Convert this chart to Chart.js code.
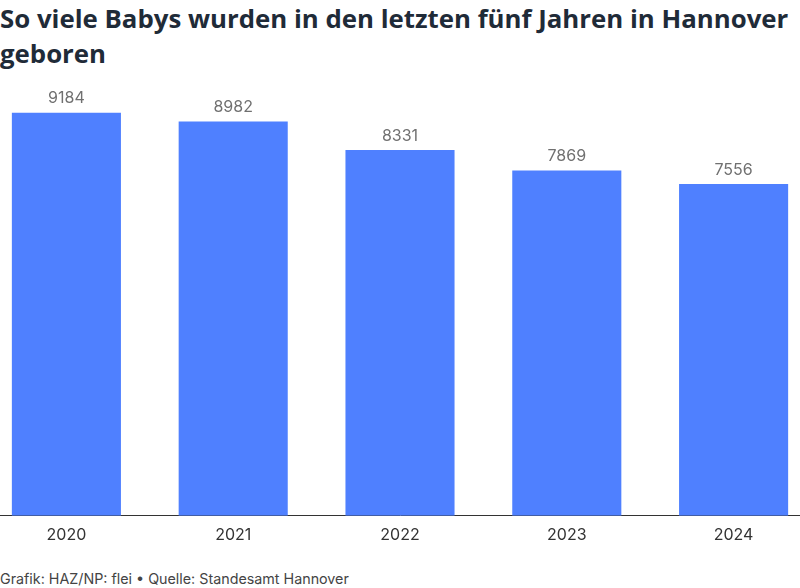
<!DOCTYPE html>
<html lang="de">
<head>
<meta charset="utf-8">
<script src="https://cdn.jsdelivr.net/npm/chart.js@4.4.1/dist/chart.umd.min.js"></script>
<style>
  html, body { margin: 0; padding: 0; background: #fff; overflow: hidden; }
  body { width: 800px; height: 588px; position: relative; font-family: Inter, "Noto Sans", sans-serif; }
  #titel {
    position: absolute; left: 0; top: 1px; width: 800px; margin: 0;
    font-family: "Open Sans", "Noto Sans", sans-serif; font-weight: 700; font-size: 25.8px;
    line-height: 35px; color: #1f2b38; white-space: nowrap;
  }
  #quelle {
    position: absolute; left: 0; top: 570px; font-size: 14.3px; color: #444; margin: 0;
  }
  #wrap { position: absolute; left: -17px; top: 80px; width: 834px; height: 475px; }
</style>
</head>
<body>
<h1 id="titel">So viele Babys wurden in den letzten fünf Jahren in Hannover<br>geboren</h1>
<div id="wrap"><canvas id="chart"></canvas></div>
<p id="quelle">Grafik: HAZ/NP: flei • Quelle: Standesamt Hannover</p>
<script>
const jahre = ["2020", "2021", "2022", "2023", "2024"];
const geburten = [9184, 8982, 8331, 7869, 7556];

// Zahlen über den Balken
const wertLabels = {
  id: "wertLabels",
  afterDatasetsDraw(chart) {
    const ctx = chart.ctx;
    const meta = chart.getDatasetMeta(0);
    ctx.save();
    ctx.font = "16px Inter, sans-serif";
    ctx.fillStyle = "#707070";
    ctx.textAlign = "center";
    ctx.textBaseline = "bottom";
    meta.data.forEach((bar, i) => {
      ctx.fillText(String(geburten[i]), bar.x, bar.y - 6);
    });
    ctx.restore();
  }
};

new Chart(document.getElementById("chart").getContext("2d"), {
  type: "bar",
  data: {
    labels: jahre,
    datasets: [{
      data: geburten,
      backgroundColor: "#4f80ff",
      categoryPercentage: 1,
      barPercentage: 0.654
    }]
  },
  options: {
    responsive: true,
    maintainAspectRatio: false,
    animation: false,
    layout: { padding: { top: 10, bottom: 0, left: 0, right: 0 } },
    plugins: { legend: { display: false }, tooltip: { enabled: false } },
    scales: {
      x: {
        grid: { display: false, drawTicks: false },
        border: { display: true, color: "#333", width: 1 },
        ticks: { color: "#333", font: { family: "Inter", size: 16 }, padding: 10 }
      },
      y: {
        display: false,
        min: 0,
        max: 9700
      }
    }
  },
  plugins: [wertLabels]
});
</script>
</body>
</html>
